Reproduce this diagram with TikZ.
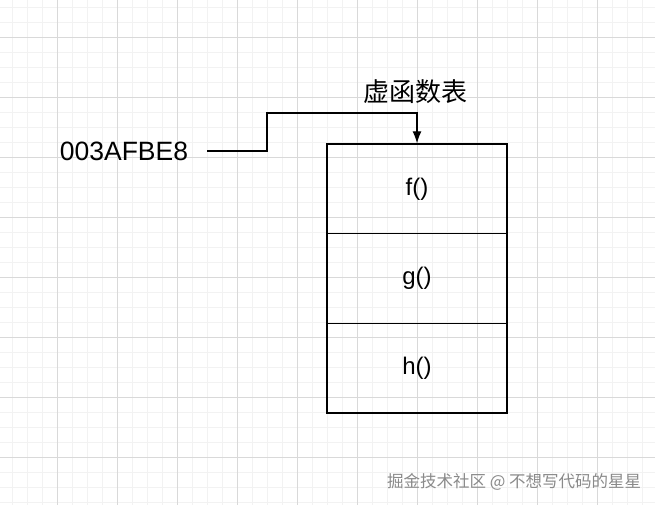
\documentclass[tikz,border=0pt]{standalone}
\usepackage{fontspec}
\setmainfont{Liberation Sans}
\newfontfamily\cjkfont{Noto Sans CJK SC}
\usepackage{tikz}
\usetikzlibrary{arrows.meta,positioning,calc}
\definecolor{gridminor}{HTML}{F2F2F2}
\definecolor{gridmajor}{HTML}{D9D9D9}
\definecolor{markgray}{HTML}{8A8A8A}

\begin{document}
\begin{tikzpicture}[x=1pt, y=1pt,
    minorgrid/.style={draw=gridminor, line width=0.8pt, step=15pt},
    majorgrid/.style={draw=gridmajor, line width=0.8pt, step=60pt},
    cell/.style={draw=black, line width=1.3pt, minimum width=180pt, minimum height=89.7pt, inner sep=0pt, outer sep=0pt, font=\fontsize{24}{27}\selectfont},
    addrtext/.style={inner xsep=19pt, inner ysep=0pt, font=\fontsize{26.5}{30}\selectfont},
    title/.style={inner sep=0pt, font=\cjkfont\fontsize{26}{29}\selectfont},
    link/.style={draw=black, line width=1.3pt, -{Latex[length=12pt,width=9pt]}, shorten >=0.6pt},
    wmark/.style={inner sep=0pt, text=markgray, font=\cjkfont\fontsize{16.5}{18}\selectfont}
]
    % Page and background grid
    \useasboundingbox (0,0) rectangle (655,-505);
    \fill[white] (0,0) rectangle (655,-505);
    \begin{scope}
        \clip (0,0) rectangle (655,-505);
        \draw[minorgrid, shift={(-3,-37)}] (0,40) grid (660,-470);
        \draw[majorgrid, shift={(-3,-37)}] (0,40) grid (660,-470);
    \end{scope}

    % Virtual function table
    \node[cell] (f) at (417,-188.8) {f()};
    \node[cell, below=0pt of f] (g) {g()};
    \node[cell, below=0pt of g] (h) {h()};
    \node[title] (vtab) at (415,-92) {虚函数表};

    % Pointer value
    \node[addrtext] (addr) at (124,-151) {003AFBE8};
    \coordinate (turn) at (267,-113);
    \draw[link] (addr.east) -| (turn) -| (f.north);

    % Watermark
    \node[wmark, anchor=west] (wm) at (387,-482) {掘金技术社区 @ 不想写代码的星星};
\end{tikzpicture}
\end{document}
